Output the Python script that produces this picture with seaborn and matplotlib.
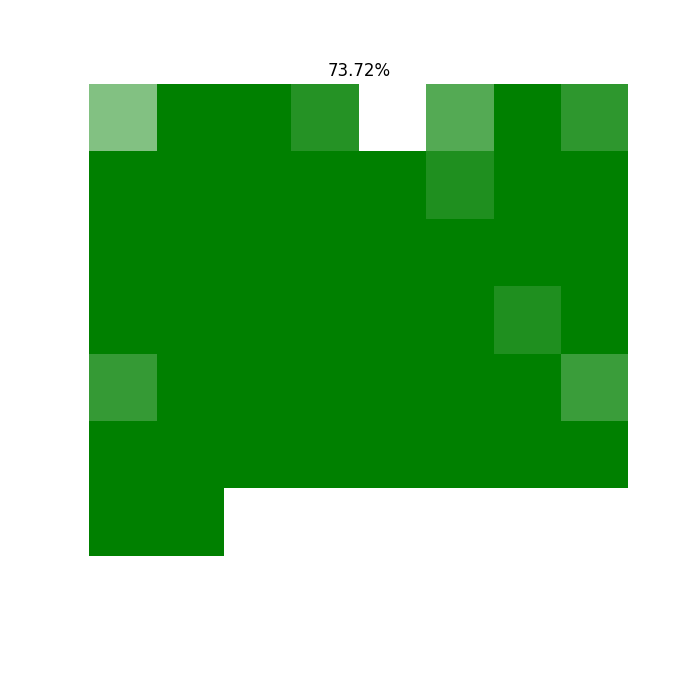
import numpy as np
import pandas as pd
import seaborn as sns
import matplotlib
matplotlib.use("Agg")
import matplotlib.pyplot as plt
from matplotlib.colors import LinearSegmentedColormap

title = "73.72%"
nan = np.nan
row0 = [0.49, 1.0, 1.0, 0.855, 0.0, 0.67, 1.0, 0.82]
row1 = [1.0, 1.0, 1.0, 1.0, 1.0, 0.875, 1.0, 1.0]
row2 = [1.0, 1.0, 1.0, 1.0, 1.0, 1.0, 1.0, 1.0]
row3 = [1.0, 1.0, 1.0, 1.0, 1.0, 1.0, 0.875, 1.0]
row4 = [0.79, 1.0, 1.0, 1.0, 1.0, 1.0, 1.0, 0.77]
row5 = [1.0, 1.0, 1.0, 1.0, 1.0, 1.0, 1.0, 1.0]
row6 = [1.0, 1.0, nan, nan, nan, nan, nan, nan]
row7 = [nan] * 8

data = pd.DataFrame([row0, row1, row2, row3, row4, row5, row6, row7])

cmap = LinearSegmentedColormap.from_list("wg", ["white", "green"])

fig, ax = plt.subplots(figsize=(7, 7), dpi=100)
sns.heatmap(data, ax=ax, cmap=cmap, vmin=0, vmax=1, cbar=False, square=True,
            xticklabels=False, yticklabels=False)
ax.set_title(title, fontsize=12)
ax.axis("off")
fig.savefig("out.png", dpi=100)
